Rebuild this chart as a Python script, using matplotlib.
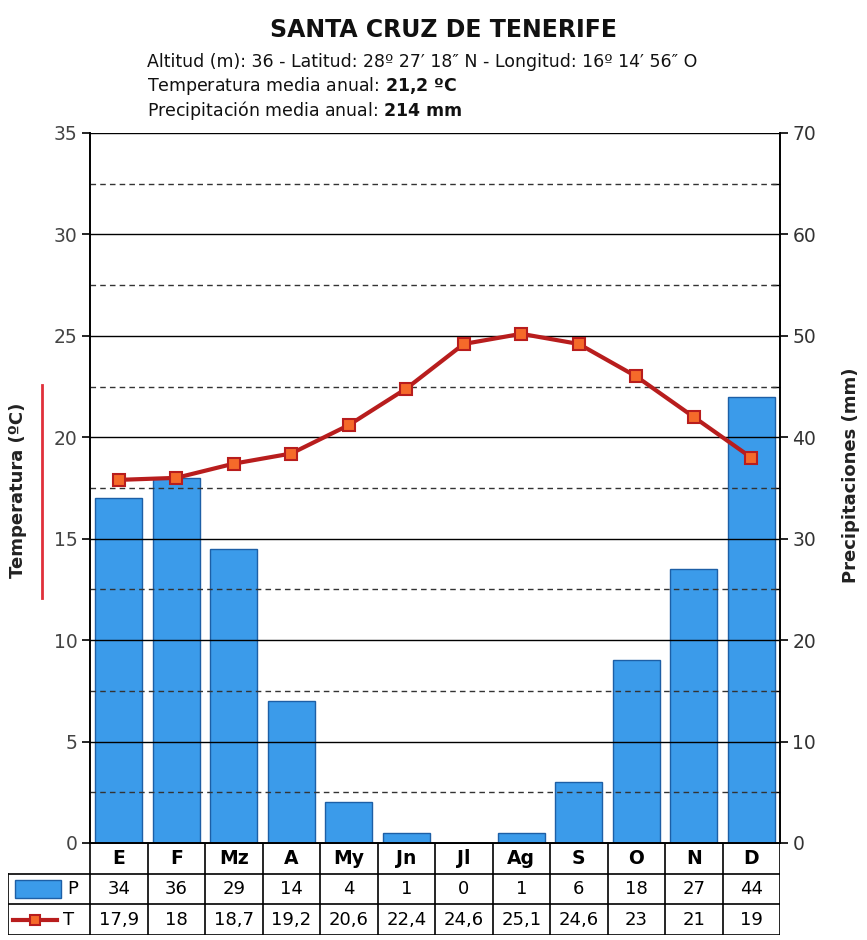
import matplotlib.pyplot as plt
import numpy as np
from matplotlib.patches import Rectangle
from matplotlib.lines import Line2D

months = ["E", "F", "Mz", "A", "My", "Jn", "Jl", "Ag", "S", "O", "N", "D"]
precip = [34, 36, 29, 14, 4, 1, 0, 1, 6, 18, 27, 44]
temp = [17.9, 18, 18.7, 19.2, 20.6, 22.4, 24.6, 25.1, 24.6, 23, 21, 19]
temp_labels = ["17,9", "18", "18,7", "19,2", "20,6", "22,4", "24,6", "25,1", "24,6", "23", "21", "19"]

title = "SANTA CRUZ DE TENERIFE"
info = "Altitud (m): 36 - Latitud: 28º 27′ 18″ N - Longitud: 16º 14′ 56″ O"

W, H = 867, 940
fig = plt.figure(figsize=(W / 100, H / 100), dpi=100)
fig.patch.set_facecolor("white")

def fx(px):
    return px / W

def fy(py):
    return 1 - py / H

# main chart area
left, right, top, bottom = 90, 780, 133, 843
ax = fig.add_axes([fx(left), fy(bottom), fx(right - left), (bottom - top) / H])
ax2 = ax.twinx()

x = np.arange(len(months))

# grid lines on temperature scale
for v in np.arange(5, 36, 5):
    ax.axhline(v, color="black", lw=1.0, zorder=1)
for v in np.arange(2.5, 35, 5):
    ax.axhline(v, color="#333333", lw=1.0, ls=(0, (4, 3)), zorder=1)

ax2.bar(x, precip, width=0.82, color="#3b9bea", edgecolor="#1d5fa6", lw=1.0, zorder=2)
ax.plot(x, temp, color="#b81d1d", lw=3, marker="s", ms=8, mfc="#f56a2a",
        mec="#b81d1d", mew=1.5, zorder=5)

ax.set_zorder(ax2.get_zorder() + 1)
ax.patch.set_visible(False)

ax.set_xlim(-0.5, 11.5)
ax.set_ylim(0, 35)
ax2.set_ylim(0, 70)
ax.set_xticks([])
ax.set_yticks(np.arange(0, 36, 5))
ax2.set_yticks(np.arange(0, 71, 10))
ax2.set_yticks(np.arange(5, 70, 10), minor=True)
ax.tick_params(axis="y", labelsize=13.5, labelcolor="#444444", length=6, width=1.2, pad=3)
ax2.tick_params(axis="y", which="major", labelsize=13.5, labelcolor="#333333",
                length=6, width=1.2, pad=3)
ax2.tick_params(axis="y", which="minor", direction="in", length=6, width=1.0)
for a in (ax, ax2):
    for s in a.spines.values():
        s.set_linewidth(1.2)
    a.spines["top"].set_visible(False)

fig.text(fx(18), fy(490), "Temperatura (ºC)", rotation=90, ha="center", va="center",
         fontsize=13, fontweight="bold", color="#222222")
fig.add_artist(Line2D([fx(42), fx(42)], [fy(385), fy(598)], color="#e0303a", lw=2))
fig.text(fx(851), fy(475), "Precipitaciones (mm)", rotation=90, ha="center", va="center",
         fontsize=13, fontweight="bold", color="#222222")

# titles
fig.text(fx(443), fy(30), title, ha="center", va="center", fontsize=17,
         fontweight="bold", color="#111111")
fig.text(fx(147), fy(62), info, ha="left", va="center", fontsize=12.5, color="#111111")
fig.text(fx(147), fy(86), "Temperatura media anual: $\\bf{21{,}2\\ ºC}$", ha="left",
         va="center", fontsize=12.5, color="#111111")
fig.text(fx(147), fy(110), "Precipitación media anual: $\\bf{214\\ mm}$", ha="left",
         va="center", fontsize=12.5, color="#111111")

# table under the chart
tleft, tbot = 8, 935
slot = (right - left) / 12
tab = fig.add_axes([fx(tleft), fy(tbot), fx(right - tleft), (tbot - bottom) / H])
tab.set_xlim(-0.5 - (left - tleft) / slot, 11.5)
tab.set_ylim(3, 0)
tab.axis("off")
x0 = -0.5 - (left - tleft) / slot

# borders
tab.plot([-0.5, 11.5], [0, 0], color="black", lw=1.2)
for yy in (1, 2, 3):
    tab.plot([x0, 11.5], [yy, yy], color="black", lw=1.2)
tab.plot([x0, x0], [1, 3], color="black", lw=1.2)
for xx in np.arange(-0.5, 12, 1):
    tab.plot([xx, xx], [0, 3], color="black", lw=1.2)

for i, m in enumerate(months):
    tab.text(i, 0.5, m, ha="center", va="center", fontsize=13.5, fontweight="bold")
    tab.text(i, 1.5, str(precip[i]), ha="center", va="center", fontsize=13)
    tab.text(i, 2.5, temp_labels[i], ha="center", va="center", fontsize=13)

# legend cells
tab.add_patch(Rectangle((x0 + 0.12, 1.2), 0.8, 0.6, facecolor="#3b9bea",
                        edgecolor="#1d5fa6", lw=1))
tab.text(x0 + 1.12, 1.5, "P", ha="center", va="center", fontsize=13)
tab.plot([x0 + 0.08, x0 + 0.86], [2.5, 2.5], color="#b81d1d", lw=3)
tab.plot([x0 + 0.47], [2.5], marker="s", ms=7, mfc="#f56a2a", mec="#b81d1d", mew=1.5)
tab.text(x0 + 1.05, 2.5, "T", ha="center", va="center", fontsize=13)

fig.savefig("out.png", dpi=100)
